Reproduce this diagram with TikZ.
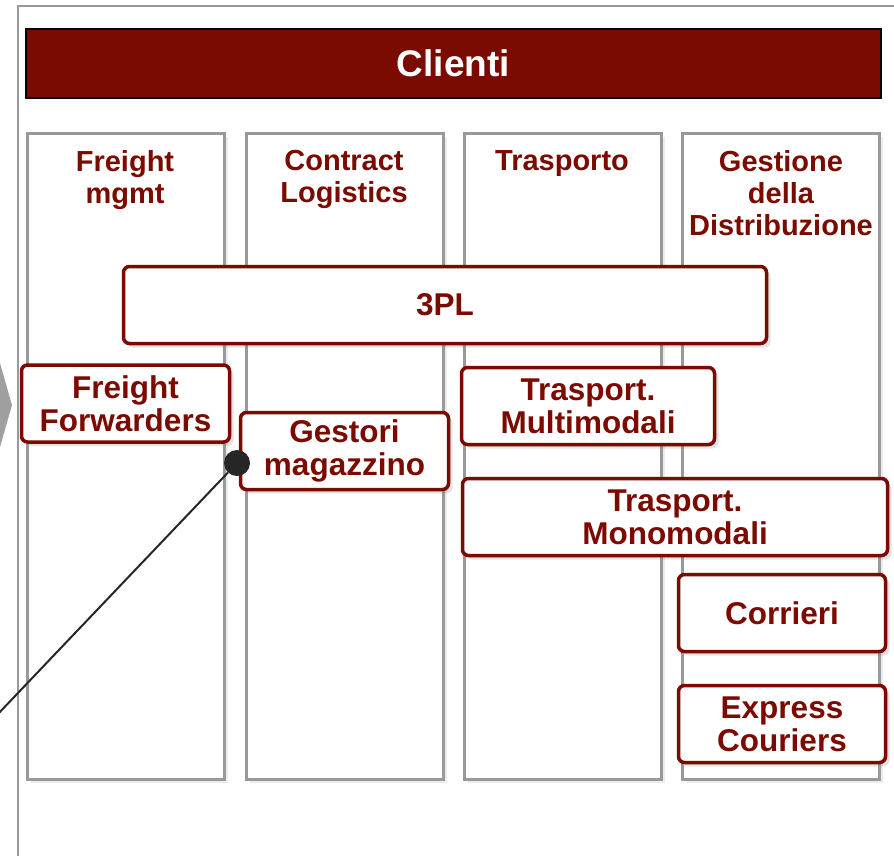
\documentclass[tikz,border=0pt]{standalone}
\usepackage{fontspec}
\setmainfont{Liberation Sans}
\usetikzlibrary{shadows}

\definecolor{darkbrick}{RGB}{123,10,0}
\definecolor{framegray}{RGB}{153,153,153}
\definecolor{dotgray}{RGB}{38,38,38}

\begin{document}
\begin{tikzpicture}[
    x=1pt, y=-1pt,
    column/.style={draw=framegray, line width=2.5pt, fill=white, anchor=north west,
        minimum width=197pt, minimum height=646pt, inner sep=0pt,
        drop shadow={shadow xshift=4pt, shadow yshift=-4pt, opacity=0.15}},
    header/.style={text=darkbrick, anchor=north, align=center, inner sep=0pt,
        font=\fontsize{29}{32}\selectfont\bfseries},
    box/.style={draw=darkbrick, line width=3.5pt, rounded corners=6pt, fill=white,
        text=darkbrick, align=center, minimum height=77pt, inner sep=0pt,
        font=\fontsize{31.5}{33}\selectfont\bfseries,
        drop shadow={shadow xshift=4pt, shadow yshift=-4pt, opacity=0.22}}
]
    \useasboundingbox (0,0) rectangle (894,855);

    % Outer frame and side arrow
    \draw[framegray, line width=2pt] (18,860) -- (18,6) -- (900,6);
    \fill[gray!75] (0,363) -- (12,405) -- (0,447) -- cycle;

    % Top bar
    \node[draw=black, line width=2pt, fill=darkbrick, text=white,
          minimum width=855pt, minimum height=69pt, inner sep=0pt,
          font=\fontsize{37}{40}\selectfont\bfseries] (clienti) at (453.5,63.5) {Clienti};

    % Columns
    \node[column] (colFreight) at (26,132) {};
    \node[column] (colContract) at (245,132) {};
    \node[column] (colTrasporto) at (463,132) {};
    \node[column] (colGestione) at (681,132) {};

    % Column headers
    \node[header] (hFreight) at (125,150) {Freight\\mgmt};
    \node[header] (hContract) at (344,150) {Contract\\Logistics};
    \node[header] (hTrasporto) at (562,150) {Trasporto};
    \node[header] (hGestione) at (781,150) {Gestione\\della\\Distribuzione};

    % Operators
    \node[box, minimum width=643pt] (tpl) at (445,305) {3PL};
    \node[box, minimum width=208pt] (forwarders) at (125.5,403.5) {Freight\\Forwarders};
    \node[box, minimum width=208pt] (gestori) at (344.5,451) {Gestori\\magazzino};
    \node[box, minimum width=253pt] (multimodali) at (588,406) {Trasport.\\Multimodali};
    \node[box, minimum width=425pt] (monomodali) at (675,517) {Trasport.\\Monomodali};
    \node[box, minimum width=207pt] (corrieri) at (782,613) {Corrieri};
    \node[box, minimum width=207pt] (couriers) at (782,724) {Express\\Couriers};

    % Pointer
    \coordinate (pointerEnd) at (-3,715);
    \node[circle, fill=dotgray, minimum size=26pt, inner sep=0pt] (pin) at (237,463) {};
    \draw[dotgray, line width=2pt] (pin) -- (pointerEnd);

\end{tikzpicture}
\end{document}
